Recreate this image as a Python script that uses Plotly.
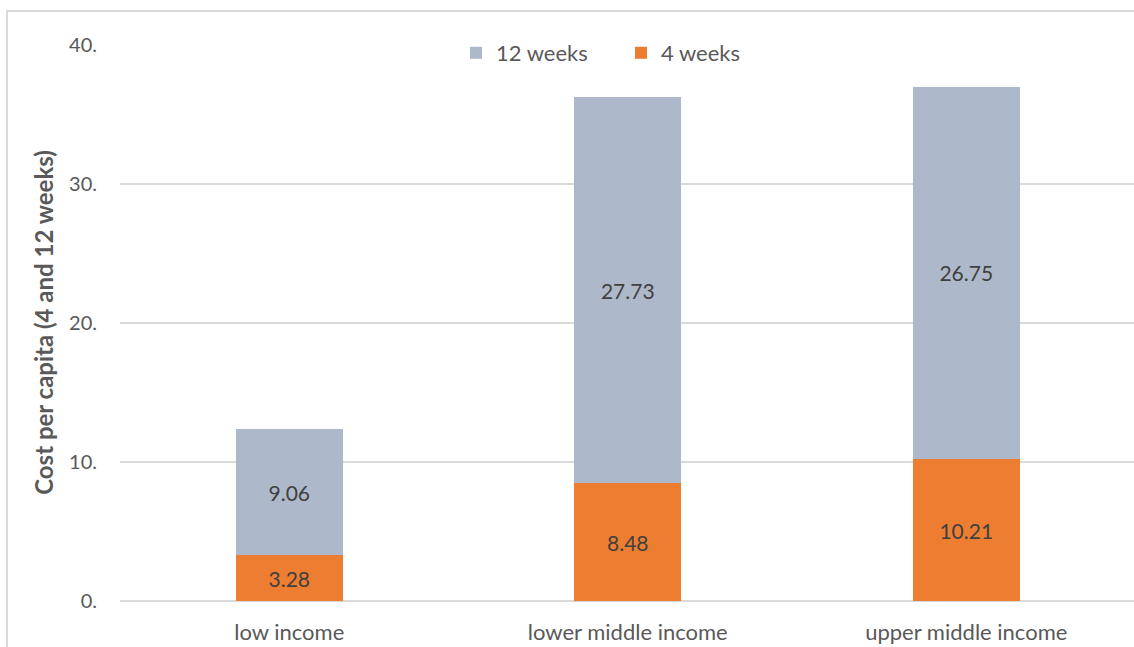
import plotly.graph_objects as go

categories = ["low income", "lower middle income", "upper middle income"]
weeks4 = [3.28, 8.48, 10.21]
weeks12 = [9.06, 27.73, 26.75]
ytick_vals = [0, 10, 20, 30, 40]
ytick_text = ["0.", "10.", "20.", "30.", "40."]

W, H = 1134, 647
L, R, T, B = 120, 0, 44, 46

FONT = "Lato, 'Open Sans', sans-serif"
GRAY = "#595959"

fig = go.Figure()
fig.add_trace(go.Bar(
    name="4 weeks", x=categories, y=weeks4,
    marker=dict(color="#ED7D31", line=dict(width=0)),
    text=[f"{v:.2f}" for v in weeks4], textposition="inside",
    insidetextanchor="middle", textfont=dict(color="#404040", size=21, family=FONT),
    width=0.316, legendrank=2,
))
fig.add_trace(go.Bar(
    name="12 weeks", x=categories, y=weeks12,
    marker=dict(color="#ADB9CA", line=dict(width=0)),
    text=[f"{v:.2f}" for v in weeks12], textposition="inside",
    insidetextanchor="middle", textfont=dict(color="#404040", size=21, family=FONT),
    width=0.316, legendrank=1,
))

pw = W - L - R
ph = H - T - B
fig.update_layout(
    width=W, height=H, barmode="stack",
    margin=dict(l=L, r=R, t=T, b=B, pad=0),
    paper_bgcolor="white", plot_bgcolor="white",
    font=dict(family=FONT, color=GRAY, size=20),
    uniformtext=dict(mode=False),
    legend=dict(orientation="h", x=(456 - L) / pw, xanchor="left",
                y=(601 - 53) / ph, yanchor="middle",
                font=dict(size=22, color=GRAY), bgcolor="rgba(0,0,0,0)",
                itemwidth=30, traceorder="normal", entrywidth=120),
    xaxis=dict(range=[-0.5, -0.5 + pw / 338.5], showgrid=False, showline=False,
               ticks="", tickfont=dict(size=22, color=GRAY), ticklabelstandoff=16),
    yaxis=dict(range=[0, 40.05], tickvals=ytick_vals, ticktext=ytick_text,
               showgrid=True, gridcolor="#D9D9D9", gridwidth=2,
               zeroline=True, zerolinecolor="#D9D9D9", zerolinewidth=2,
               showline=False, ticks="", tickfont=dict(size=20, color=GRAY),
               ticklabelstandoff=22,
               title=dict(text="<b>Cost per capita (4 and 12 weeks)</b>",
                          font=dict(size=24, color=GRAY), standoff=8)),
    shapes=[dict(type="rect", xref="paper", yref="paper",
                 x0=(7 - L) / pw, x1=(1140 - L) / pw,
                 y0=(601 - 660) / ph, y1=(601 - 11) / ph,
                 line=dict(color="#D9D9D9", width=2), fillcolor="rgba(0,0,0,0)",
                 layer="below")],
)

fig.write_html("out.html")
